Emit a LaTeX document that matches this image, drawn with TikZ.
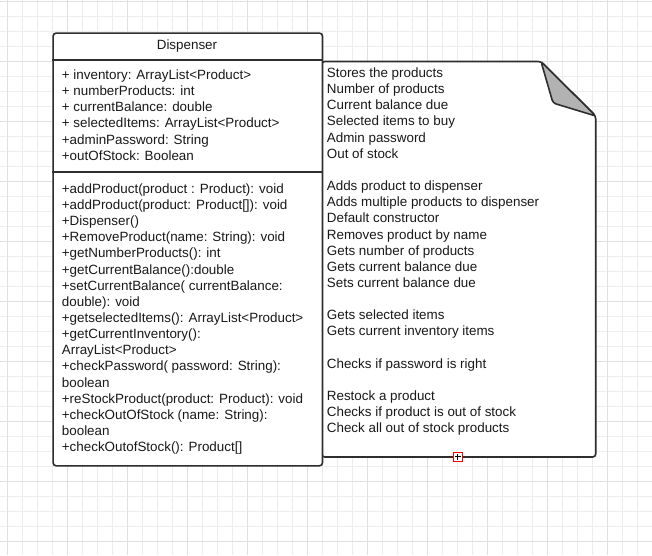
\documentclass[tikz,border=0pt]{standalone}
\usepackage{fontspec}
\setmainfont{Liberation Sans}
\begin{document}
\begin{tikzpicture}[x=1pt,y=-1pt,
  txt/.style={anchor=base west,inner sep=0pt,font=\fontsize{13.4}{16}\selectfont,text=black!90},
  edge/.style={draw=black!82,line width=1.6pt},
  gridminor/.style={draw=black!7,line width=0.9pt},
  gridmajor/.style={draw=black!12,line width=0.9pt}]
\useasboundingbox (0,0) rectangle (652,555);
\fill[white] (0,0) rectangle (652,555);
% grid
\foreach \i in {0,...,43} \draw[gridminor] ({7.3+15*\i},0) -- ({7.3+15*\i},555);
\foreach \i in {0,...,37} \draw[gridminor] (0,{1.7+15*\i}) -- (652,{1.7+15*\i});
\foreach \i in {0,...,10} \draw[gridmajor] ({7.3+60*\i},0) -- ({7.3+60*\i},555);
\foreach \i in {0,...,9} \draw[gridmajor] (0,{1.7+60*\i}) -- (652,{1.7+60*\i});
% note shape
\coordinate (nTL) at (321.7,61.5);
\coordinate (nF1) at (541,61.5);
\coordinate (nF2) at (595.7,116);
\coordinate (nBR) at (595.7,457);
\coordinate (nBL) at (321.7,457);
\filldraw[edge,fill=white,rounded corners=3pt] (nTL) -- (nF1) -- (nF2) -- (nBR) -- (nBL) -- cycle;
\coordinate (fIn) at (553,103);
\filldraw[edge,fill=black!30,rounded corners=3pt,line join=round] (nF1) -- (fIn) -- (nF2) -- cycle;
% class box
\node (cls) [edge,fill=white,rounded corners=3pt,anchor=north west,inner sep=0pt,
  minimum width=269.4pt,minimum height=432.7pt] at (52.3,32.3) {};
\draw[edge] (cls.west |- 0,60) -- (cls.east |- 0,60);
\draw[edge] (cls.west |- 0,171.7) -- (cls.east |- 0,171.7);
\node (title) [anchor=base,inner sep=0pt,font=\fontsize{13.4}{16}\selectfont,text=black!90] at (187,49.2) {Dispenser};
% attributes
\foreach \t [count=\k from 0] in {
  {+ inventory: ArrayList<Product>},
  {+ numberProducts: int},
  {+ currentBalance: double},
  {+ selectedItems: ArrayList<Product>},
  {+adminPassword: String},
  {+outOfStock: Boolean}}
  \node (a\k) [txt] at (61.7,{79.5+16.15*\k}) {\t};
% methods
\foreach \t [count=\k from 0] in {
  {+addProduct(product : Product): void},
  {+addProduct(product: Product[]): void},
  {+Dispenser()},
  {+RemoveProduct(name: String): void},
  {+getNumberProducts(): int},
  {+getCurrentBalance():double},
  {+setCurrentBalance( currentBalance:},
  {double): void},
  {+getselectedItems(): ArrayList<Product>},
  {+getCurrentInventory():},
  {ArrayList<Product>},
  {+checkPassword( password: String):},
  {boolean},
  {+reStockProduct(product: Product): void},
  {+checkOutOfStock (name: String):},
  {boolean},
  {+checkOutofStock(): Product[]}}
  \node (m\k) [txt] at (61.7,{193.3+16.15*\k}) {\t};
% note text
\foreach \t [count=\k from 0] in {
  {Stores the products},
  {Number of products},
  {Current balance due},
  {Selected items to buy},
  {Admin password},
  {Out of stock},
  {},
  {Adds product to dispenser},
  {Adds multiple products to dispenser},
  {Default constructor},
  {Removes product by name},
  {Gets number of products},
  {Gets current balance due},
  {Sets current balance due},
  {},
  {Gets selected items},
  {Gets current inventory items},
  {},
  {Checks if password is right},
  {},
  {Restock a product},
  {Checks if product is out of stock},
  {Check all out of stock products}}
  \node (n\k) [txt] at (326.7,{77.5+16.15*\k}) {\t};
% handle
\node (handle) [draw=red,fill=white,line width=1pt,minimum size=9pt,inner sep=0pt] at (457.5,456.5) {};
\draw[black,line width=0.8pt] ([xshift=-3pt]handle.center) -- ([xshift=3pt]handle.center);
\draw[black,line width=0.8pt] ([yshift=-3pt]handle.center) -- ([yshift=3pt]handle.center);
\end{tikzpicture}
\end{document}
